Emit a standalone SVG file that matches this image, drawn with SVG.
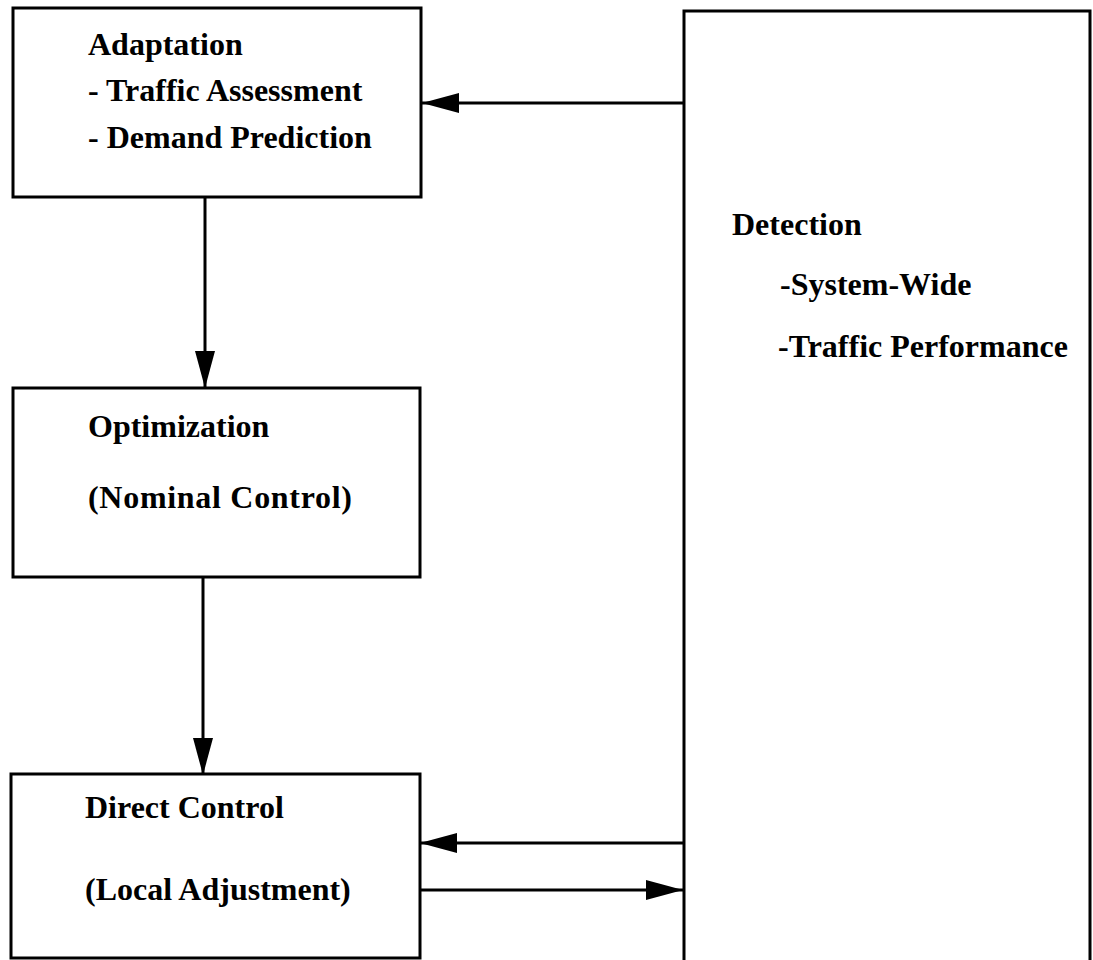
<svg xmlns="http://www.w3.org/2000/svg" width="1093" height="960" viewBox="0 0 1093 960">
<style>
.box{fill:none;stroke:#000;stroke-width:3}
.t{font-family:"Liberation Serif","Times New Roman",serif;font-weight:bold;font-size:32px;fill:#000}
.c{fill:none;stroke:#000;stroke-width:3}
</style>
<defs>
<marker id="ah" markerUnits="userSpaceOnUse" markerWidth="40" markerHeight="22" refX="37" refY="10" orient="auto">
<path d="M0,0 L37,10 L0,20 Z" fill="#000"/>
</marker>
</defs>
<rect width="1093" height="960" fill="#fff"/>
<g id="adaptation">
<rect class="box" x="13" y="8" width="408" height="189"/>
<text class="t" x="88" y="55">Adaptation</text>
<text class="t" x="88" y="101">- Traffic Assessment</text>
<text class="t" x="88" y="148">- Demand Prediction</text>
</g>
<g id="optimization">
<rect class="box" x="13" y="388" width="407" height="189"/>
<text class="t" x="88" y="437">Optimization</text>
<text class="t" x="88" y="508" textLength="264">(Nominal Control)</text>
</g>
<g id="direct-control">
<rect class="box" x="11" y="774" width="409" height="184"/>
<text class="t" x="85" y="818">Direct Control</text>
<text class="t" x="85" y="900">(Local Adjustment)</text>
</g>
<g id="detection">
<path class="box" d="M684,962 V11 H1090 V962"/>
<text class="t" x="732" y="235">Detection</text>
<text class="t" x="780" y="295">-System-Wide</text>
<text class="t" x="778" y="357">-Traffic Performance</text>
</g>
<g id="connectors">
<line class="c" x1="684" y1="103" x2="422" y2="103" marker-end="url(#ah)"/>
<line class="c" x1="205" y1="197" x2="205" y2="388" marker-end="url(#ah)"/>
<line class="c" x1="203" y1="577" x2="203" y2="775" marker-end="url(#ah)"/>
<line class="c" x1="684" y1="843" x2="420" y2="843" marker-end="url(#ah)"/>
<line class="c" x1="420" y1="890" x2="683" y2="890" marker-end="url(#ah)"/>
</g>
</svg>
